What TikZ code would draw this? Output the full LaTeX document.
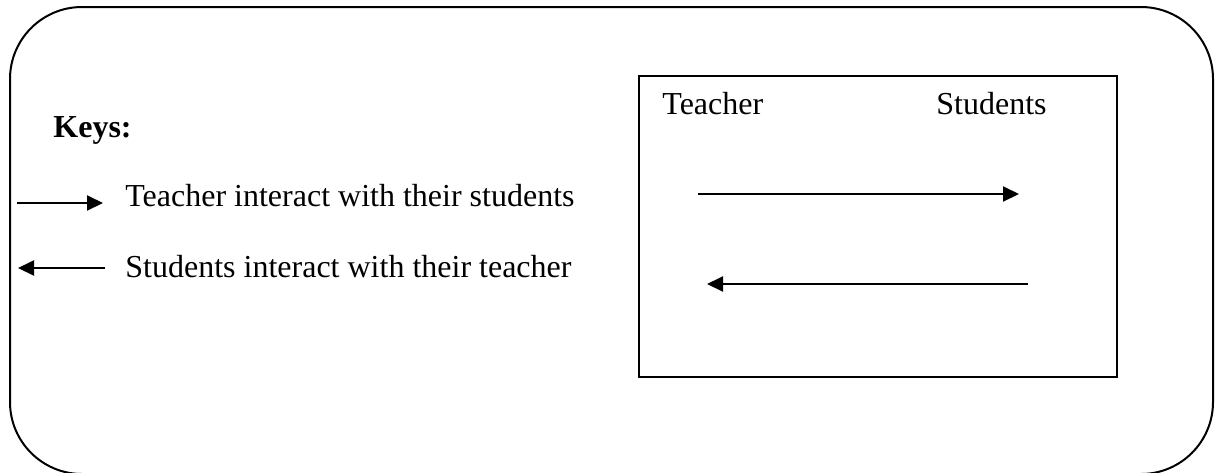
\documentclass[tikz,border=0pt]{standalone}
\usepackage{fontspec}
\setmainfont{Liberation Serif}
\usetikzlibrary{arrows.meta, positioning}

\begin{document}
\begin{tikzpicture}[
    x=0.5pt, y=-0.5pt,
    outerframe/.style={draw, line width=1pt, rounded corners=36pt},
    panel/.style={rectangle, draw, line width=1pt, inner sep=0pt, minimum width=239pt, minimum height=150.5pt},
    keytext/.style={font=\fontsize{16}{19}\selectfont, inner sep=0pt},
    flow/.style={line width=1pt, -{Triangle[length=8pt, width=7.5pt]}},
]
    \useasboundingbox (0,0) rectangle (1215,472);

    % Outer frame (bottom edge runs off the page)
    \draw[outerframe] (10,7) rectangle (1213,474);

    % Keys
    \node[keytext, font=\fontsize{16}{19}\selectfont\bfseries, anchor=base west] (keys) at (53,137) {Keys:};
    \node[keytext, anchor=base west] (keyto) at (125,206) {Teacher interact with their students};
    \node[keytext, anchor=base west] (keyfrom) at (125,277) {Students interact with their teacher};
    \coordinate (keytoA) at (17,203);
    \coordinate (keytoB) at (103,203);
    \coordinate (keyfromA) at (105,268);
    \coordinate (keyfromB) at (18,268);
    \draw[flow] (keytoA) -- (keytoB);
    \draw[flow] (keyfromA) -- (keyfromB);

    % Interaction box
    \node[panel] (box) at (878,226.5) {};
    \node[keytext, anchor=base west] (teacher) at (662,114) {Teacher};
    \node[keytext, anchor=base east] (students) at (1047,114) {Students};
    \coordinate (toA) at (698,194);
    \coordinate (toB) at (1019,194);
    \coordinate (fromA) at (1028,284);
    \coordinate (fromB) at (707,284);
    \draw[flow] (toA) -- (toB);
    \draw[flow] (fromA) -- (fromB);

\end{tikzpicture}
\end{document}
